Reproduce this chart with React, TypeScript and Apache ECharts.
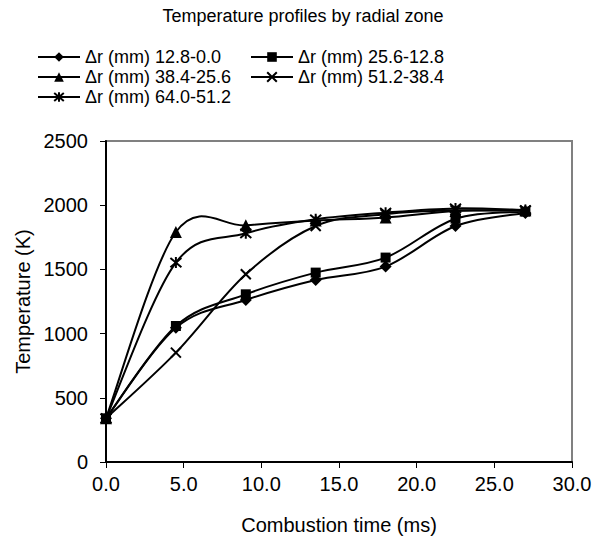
import React, { useEffect, useRef } from "react";
import * as echarts from "echarts";

const times = [0, 4.5, 9, 13.5, 18, 22.5, 27];
const seriesNames = [
  "Δr (mm) 12.8-0.0",
  "Δr (mm) 25.6-12.8",
  "Δr (mm) 38.4-25.6",
  "Δr (mm) 51.2-38.4",
  "Δr (mm) 64.0-51.2",
];
const zone1 = [340, 1045, 1262, 1418, 1522, 1838, 1940];
const zone2 = [340, 1059, 1306, 1475, 1592, 1895, 1950];
const zone3 = [340, 1791, 1843, 1880, 1905, 1955, 1960];
const zone4 = [340, 852, 1462, 1838, 1930, 1960, 1958];
const zone5 = [340, 1553, 1781, 1890, 1942, 1975, 1962];
const yTicks = [0, 500, 1000, 1500, 2000, 2500];
const xTicks = [0, 5, 10, 15, 20, 25, 30];

const FONT = "Liberation Sans, Arial, sans-serif";

export default function App() {
  const ref = useRef<HTMLDivElement>(null);
  useEffect(() => {
    if (!ref.current) return;
    const chart = echarts.init(ref.current, null, { renderer: "svg" });
    const values = [zone1, zone2, zone3, zone4, zone5];
    const symbols = [
      "diamond",
      "rect",
      "triangle",
      "path://M0,0L10,10M10,0L0,10",
      "path://M0,0L10,10M10,0L0,10M5,-1L5,11",
    ];
    const sizes = [12, 10, 12, 10, 11];

    // smoothed curves (Catmull-Rom style Bezier, like a spreadsheet's smoothed line)
    const curveSeries = values.map((vals) => ({
      type: "custom",
      coordinateSystem: "cartesian2d",
      silent: true,
      data: [[times[0], vals[0]]],
      renderItem: (_params: any, api: any) => {
        const p = times.map((t, j) => api.coord([t, vals[j]]));
        const n = p.length;
        const g = (k: number) => p[Math.max(0, Math.min(n - 1, k))];
        let d = `M${p[0][0]},${p[0][1]}`;
        for (let i = 0; i < n - 1; i++) {
          const p0 = g(i - 1), p1 = g(i), p2 = g(i + 1), p3 = g(i + 2);
          const c1x = p1[0] + (p2[0] - p0[0]) / 6;
          const c1y = p1[1] + (p2[1] - p0[1]) / 6;
          const c2x = p2[0] - (p3[0] - p1[0]) / 6;
          const c2y = p2[1] - (p3[1] - p1[1]) / 6;
          d += ` C${c1x},${c1y} ${c2x},${c2y} ${p2[0]},${p2[1]}`;
        }
        return {
          type: "path",
          shape: { pathData: d },
          style: { fill: "none", stroke: "#000", lineWidth: 2 },
        };
      },
    }));

    const markerSeries = values.map((vals, i) => ({
      name: seriesNames[i],
      type: "line",
      data: times.map((t, j) => [t, vals[j]]),
      symbol: symbols[i],
      symbolSize: sizes[i],
      showSymbol: true,
      lineStyle: { color: "#000", width: 2, opacity: 0 },
      itemStyle: {
        color: "#000",
        borderColor: "#000",
        borderWidth: i >= 3 ? 2 : 0,
      },
    }));

    const legendBase = {
      orient: "vertical",
      top: 48,
      padding: 0,
      itemWidth: 42,
      itemHeight: 12,
      itemGap: 2,
      lineStyle: { color: "#000", width: 2, opacity: 1 },
      textStyle: { fontFamily: FONT, fontSize: 18, color: "#000" },
    };
    chart.setOption({
      animation: false,
      backgroundColor: "#fff",
      textStyle: { fontFamily: FONT },
      title: {
        text: "Temperature profiles by radial zone",
        left: "center",
        top: 2,
        textStyle: { fontFamily: FONT, fontSize: 18, fontWeight: "normal", color: "#000" },
      },
      legend: [
        { ...legendBase, left: 37, data: [seriesNames[0], seriesNames[2], seriesNames[4]] },
        { ...legendBase, left: 250, data: [seriesNames[1], seriesNames[3]] },
      ],
      grid: {
        left: 106,
        right: 34,
        top: 141,
        bottom: 82,
        show: true,
        borderColor: "#808080",
        borderWidth: 2,
        backgroundColor: "#fff",
      },
      xAxis: {
        type: "value",
        min: xTicks[0],
        max: xTicks[xTicks.length - 1],
        interval: 5,
        name: "Combustion time (ms)",
        nameLocation: "middle",
        nameGap: 53,
        nameTextStyle: { fontFamily: FONT, fontSize: 20, color: "#000" },
        axisLine: { show: true, lineStyle: { color: "#000", width: 2 } },
        axisTick: { show: true, length: 6, lineStyle: { color: "#000", width: 1 } },
        axisLabel: {
          margin: 12,
          fontFamily: FONT,
          fontSize: 20,
          color: "#000",
          formatter: (v: number) => v.toFixed(1),
        },
        splitLine: { show: false },
      },
      yAxis: {
        type: "value",
        min: yTicks[0],
        max: yTicks[yTicks.length - 1],
        interval: 500,
        name: "Temperature (K)",
        nameLocation: "middle",
        nameGap: 66,
        nameTextStyle: { fontFamily: FONT, fontSize: 20, color: "#000" },
        axisLine: { show: true, lineStyle: { color: "#000", width: 2 } },
        axisTick: { show: true, length: 6, lineStyle: { color: "#000", width: 1 } },
        axisLabel: {
          margin: 18,
          fontFamily: FONT,
          fontSize: 20,
          color: "#000",
          formatter: (v: number) => String(v),
        },
        splitLine: { show: false },
      },
      series: [...curveSeries, ...markerSeries],
    });
    return () => chart.dispose();
  }, []);
  return (
    <div
      ref={ref}
      style={{ position: "fixed", left: 0, top: 0, width: 606, height: 544, background: "#fff" }}
    />
  );
}
